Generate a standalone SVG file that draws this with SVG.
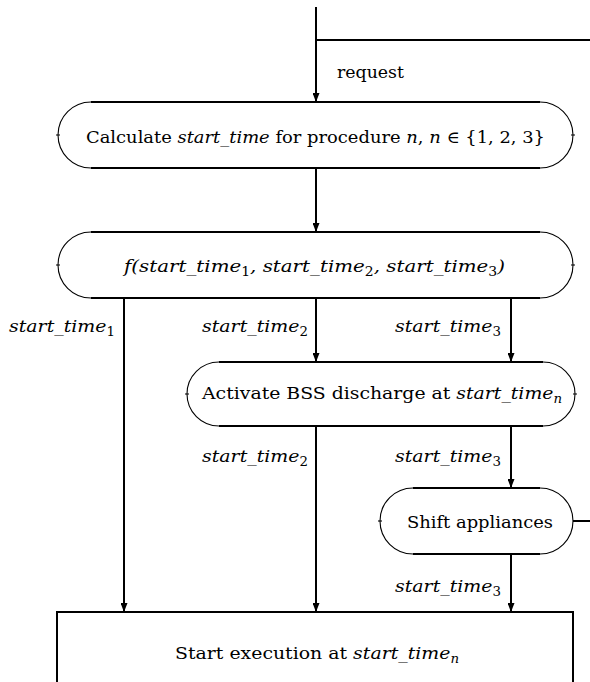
<svg xmlns="http://www.w3.org/2000/svg" width="590" height="682" viewBox="0 0 590 682" font-family="'DejaVu Serif', 'Liberation Serif', serif">
<style>
text{font-family:'DejaVu Serif','Liberation Serif',serif;font-size:17px;fill:#000}
.i{font-style:italic}
.sub{font-size:12px;font-style:normal}
.subi{font-size:12px;font-style:italic}
.thick{stroke:#000;stroke-width:2;fill:none}
.thin{stroke:#000;stroke-width:1.1;fill:none}
.conn{stroke:#000;stroke-width:2;fill:none}
</style>
<defs>
<marker id="ah" markerUnits="userSpaceOnUse" markerWidth="9" markerHeight="7" refX="8" refY="3.5" orient="auto">
<path d="M0,0 L9,3.5 L0,7 z" fill="#000"/>
</marker>
</defs>
<rect x="0" y="0" width="590" height="682" fill="#fff"/>
<g id="connectors">
<path class="conn" d="M316,7 V101" marker-end="url(#ah)"/>
<path class="conn" d="M316,40 H590"/>
<path class="conn" d="M316,168 V231" marker-end="url(#ah)"/>
<path class="conn" d="M124,298 V611" marker-end="url(#ah)"/>
<path class="conn" d="M316,298 V361" marker-end="url(#ah)"/>
<path class="conn" d="M511,298 V361" marker-end="url(#ah)"/>
<path class="conn" d="M316,426 V611" marker-end="url(#ah)"/>
<path class="conn" d="M511,426 V487" marker-end="url(#ah)"/>
<path class="conn" d="M511,554 V611" marker-end="url(#ah)"/>
<path class="conn" d="M573,521 H590"/>
<text x="337" y="78" textLength="67" lengthAdjust="spacingAndGlyphs">request</text>
<text class="i" x="9" y="332" textLength="106" lengthAdjust="spacingAndGlyphs">start_time<tspan class="sub" dy="4">1</tspan></text>
<text class="i" x="202" y="332" textLength="106" lengthAdjust="spacingAndGlyphs">start_time<tspan class="sub" dy="4">2</tspan></text>
<text class="i" x="395" y="332" textLength="106" lengthAdjust="spacingAndGlyphs">start_time<tspan class="sub" dy="4">3</tspan></text>
<text class="i" x="202" y="462" textLength="106" lengthAdjust="spacingAndGlyphs">start_time<tspan class="sub" dy="4">2</tspan></text>
<text class="i" x="395" y="462" textLength="106" lengthAdjust="spacingAndGlyphs">start_time<tspan class="sub" dy="4">3</tspan></text>
<text class="i" x="395" y="592" textLength="106" lengthAdjust="spacingAndGlyphs">start_time<tspan class="sub" dy="4">3</tspan></text>
</g>
<g id="node-calculate">
<path d="M91,102 H540 A33,33 0 0 1 540,168 H91 A33,33 0 0 1 91,102 z" fill="#fff" stroke="none"/>
<path class="thick" d="M91,102 H540 M91,168 H540"/>
<path class="thin" d="M91,102 A33,33 0 0 0 91,168 M540,102 A33,33 0 0 1 540,168"/>
<path class="thin" d="M56,135 H60 M571,135 H575"/>
<text x="86" y="143" textLength="459" lengthAdjust="spacingAndGlyphs">Calculate <tspan class="i">start_time</tspan> for procedure <tspan class="i">n</tspan>, <tspan class="i">n</tspan> ∈ {1, 2, 3}</text>
</g>
<g id="node-f">
<path d="M91,232 H540 A33,33 0 0 1 540,298 H91 A33,33 0 0 1 91,232 z" fill="#fff" stroke="none"/>
<path class="thick" d="M91,232 H540 M91,298 H540"/>
<path class="thin" d="M91,232 A33,33 0 0 0 91,298 M540,232 A33,33 0 0 1 540,298"/>
<path class="thin" d="M56,265 H60 M571,265 H575"/>
<text class="i" x="124" y="272" textLength="381" lengthAdjust="spacingAndGlyphs">f(start_time<tspan class="sub" dy="4">1</tspan><tspan dy="-4">, start_time</tspan><tspan class="sub" dy="4">2</tspan><tspan dy="-4">, start_time</tspan><tspan class="sub" dy="4">3</tspan><tspan dy="-4">)</tspan></text>
</g>
<g id="node-activate">
<path d="M219,362 H543 A32,32 0 0 1 543,426 H219 A32,32 0 0 1 219,362 z" fill="#fff" stroke="none"/>
<path class="thick" d="M219,362 H543 M219,426 H543"/>
<path class="thin" d="M219,362 A32,32 0 0 0 219,426 M543,362 A32,32 0 0 1 543,426"/>
<path class="thin" d="M185,394 H189 M573,394 H577"/>
<text x="202" y="399" textLength="360" lengthAdjust="spacingAndGlyphs">Activate BSS discharge at <tspan class="i">start_time</tspan><tspan class="subi" dy="4">n</tspan></text>
</g>
<g id="node-shift">
<path d="M413,488 H540 A33,33 0 0 1 540,554 H413 A33,33 0 0 1 413,488 z" fill="#fff" stroke="none"/>
<path class="thick" d="M413,488 H540 M413,554 H540"/>
<path class="thin" d="M413,488 A33,33 0 0 0 413,554 M540,488 A33,33 0 0 1 540,554"/>
<path class="thin" d="M378,521 H382"/>
<text x="407" y="528" textLength="146" lengthAdjust="spacingAndGlyphs">Shift appliances</text>
</g>
<g id="node-start">
<rect x="57" y="612" width="516" height="80" fill="#fff" stroke="#000" stroke-width="2"/>
<text x="175" y="659" textLength="284" lengthAdjust="spacingAndGlyphs">Start execution at <tspan class="i">start_time</tspan><tspan class="subi" dy="4">n</tspan></text>
</g>
</svg>
